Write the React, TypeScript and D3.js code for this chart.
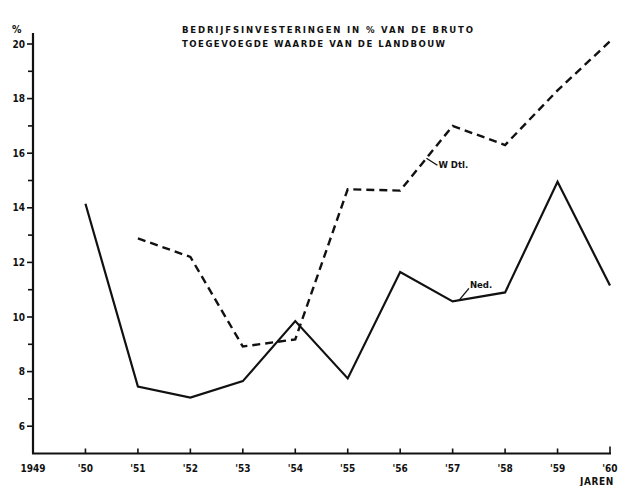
import { useEffect, useRef } from 'react';
import * as d3 from 'd3';

const years = [1949, 1950, 1951, 1952, 1953, 1954, 1955, 1956, 1957, 1958, 1959, 1960];
const yearLabels = ['1949', "'50", "'51", "'52", "'53", "'54", "'55", "'56", "'57", "'58", "'59", "'60"];

// Nederland (solid line)
const nedYears = [1950, 1951, 1952, 1953, 1954, 1955, 1956, 1957, 1958, 1959, 1960];
const nedValues = [14.15, 7.45, 7.05, 7.65, 9.85, 7.75, 11.65, 10.57, 10.9, 14.95, 11.15];

// West-Duitsland (dashed line)
const wdYears = [1951, 1952, 1953, 1954, 1955, 1956, 1957, 1958, 1959, 1960];
const wdValues = [12.88, 12.2, 8.92, 9.18, 14.68, 14.63, 17.0, 16.3, 18.3, 20.1];

const yMajorTicks = [6, 8, 10, 12, 14, 16, 18, 20];
const yMinorTicks = [7, 9, 11, 13, 15, 17, 19];

const titleLines = ['BEDRIJFSINVESTERINGEN IN % VAN DE BRUTO', 'TOEGEVOEGDE WAARDE VAN DE LANDBOUW'];

const FONT = "'DejaVu Sans Condensed', 'DejaVu Sans', sans-serif";

export default function App() {
  const ref = useRef<SVGSVGElement | null>(null);

  useEffect(() => {
    if (!ref.current) return;
    const svg = d3.select(ref.current);
    svg.selectAll('*').remove();

    const width = 627;
    const height = 486;
    svg.attr('width', width).attr('height', height);

    svg.append('rect').attr('width', width).attr('height', height).attr('fill', '#fff');

    const x = d3.scaleLinear().domain([1949, 1960]).range([33, 610]);
    const y = d3.scaleLinear().domain([5, 20]).range([453.5, 44]);

    const ink = '#111';

    // y axis line
    svg.append('line')
      .attr('x1', x(1949)).attr('x2', x(1949))
      .attr('y1', 33).attr('y2', y(5))
      .attr('stroke', ink).attr('stroke-width', 2.2);

    // y ticks
    svg.selectAll('.ymaj')
      .data(yMajorTicks)
      .enter()
      .append('line')
      .attr('x1', x(1949) - 6).attr('x2', x(1949))
      .attr('y1', d => y(d)).attr('y2', d => y(d))
      .attr('stroke', ink).attr('stroke-width', 1.6);

    svg.selectAll('.ymin')
      .data(yMinorTicks)
      .enter()
      .append('line')
      .attr('x1', x(1949) - 5).attr('x2', x(1949))
      .attr('y1', d => y(d)).attr('y2', d => y(d))
      .attr('stroke', ink).attr('stroke-width', 1.6);

    svg.selectAll('.ylab')
      .data(yMajorTicks)
      .enter()
      .append('text')
      .attr('x', 25)
      .attr('y', d => y(d) + 3.5)
      .attr('text-anchor', 'end')
      .attr('font-family', FONT)
      .attr('font-weight', 'bold')
      .attr('font-size', 10)
      .attr('fill', ink)
      .text(d => String(d));

    svg.append('text')
      .attr('x', 12).attr('y', 33)
      .attr('font-family', FONT)
      .attr('font-weight', 'bold')
      .attr('font-size', 10.5)
      .attr('fill', ink)
      .text('%');

    // x axis line
    svg.append('line')
      .attr('x1', x(1949) - 1).attr('x2', x(1960) + 1)
      .attr('y1', y(5)).attr('y2', y(5))
      .attr('stroke', ink).attr('stroke-width', 2.2);

    svg.selectAll('.xtick')
      .data(years.slice(1))
      .enter()
      .append('line')
      .attr('x1', d => x(d)).attr('x2', d => x(d))
      .attr('y1', y(5)).attr('y2', d => (d === 1960 ? y(5) - 7 : y(5) - 5))
      .attr('stroke', ink).attr('stroke-width', 1.6);

    svg.selectAll('.xlab')
      .data(years)
      .enter()
      .append('text')
      .attr('x', d => x(d))
      .attr('y', y(5) + 18)
      .attr('text-anchor', 'middle')
      .attr('font-family', FONT)
      .attr('font-weight', 'bold')
      .attr('font-size', 10)
      .attr('fill', ink)
      .text((_, i) => yearLabels[i]);

    svg.append('text')
      .attr('x', 614).attr('y', 485)
      .attr('text-anchor', 'end')
      .attr('font-family', FONT)
      .attr('font-weight', 'bold')
      .attr('font-size', 10)
      .attr('letter-spacing', 0.6)
      .attr('fill', ink)
      .text('JAREN');

    // title
    const titleW = [291, 263];
    titleLines.forEach((t, i) => {
      svg.append('text')
        .attr('x', 182).attr('y', 33 + i * 14)
        .attr('font-family', FONT)
        .attr('font-weight', 'bold')
        .attr('font-size', 9.5)
        .attr('textLength', titleW[i])
        .attr('lengthAdjust', 'spacing')
        .attr('fill', ink)
        .text(t);
    });

    const line = d3.line<[number, number]>()
      .x(d => x(d[0]))
      .y(d => y(d[1]));

    svg.append('path')
      .attr('d', line(nedYears.map((yr, i) => [yr, nedValues[i]] as [number, number])))
      .attr('fill', 'none')
      .attr('stroke', ink)
      .attr('stroke-width', 2.2)
      .attr('stroke-linejoin', 'miter');

    svg.append('path')
      .attr('d', line(wdYears.map((yr, i) => [yr, wdValues[i]] as [number, number])))
      .attr('fill', 'none')
      .attr('stroke', ink)
      .attr('stroke-width', 2.4)
      .attr('stroke-dasharray', '8,5');

    // labels with leader lines
    const wdAt = x(1956) + (x(1957) - x(1956)) * 0.5;
    const wdY = y(14.63) + (y(17.0) - y(14.63)) * 0.5;
    svg.append('line')
      .attr('x1', wdAt).attr('y1', wdY)
      .attr('x2', wdAt + 11).attr('y2', wdY + 7)
      .attr('stroke', ink).attr('stroke-width', 1.4);
    svg.append('text')
      .attr('x', wdAt + 12).attr('y', wdY + 10)
      .attr('font-family', FONT)
      .attr('font-weight', 'bold')
      .attr('font-size', 9.5)
      .attr('fill', ink)
      .text('W Dtl.');

    const nedAt = x(1957) + (x(1958) - x(1957)) * 0.12;
    const nedY = y(10.57) + (y(10.9) - y(10.57)) * 0.12;
    svg.append('line')
      .attr('x1', nedAt).attr('y1', nedY)
      .attr('x2', nedAt + 10).attr('y2', nedY - 12)
      .attr('stroke', ink).attr('stroke-width', 1.4);
    svg.append('text')
      .attr('x', nedAt + 11).attr('y', nedY - 12)
      .attr('font-family', FONT)
      .attr('font-weight', 'bold')
      .attr('font-size', 9.5)
      .attr('fill', ink)
      .text('Ned.');
  }, []);

  return (
    <div style={{ position: 'absolute', left: 0, top: 0 }}>
      <svg ref={ref}></svg>
    </div>
  );
}
